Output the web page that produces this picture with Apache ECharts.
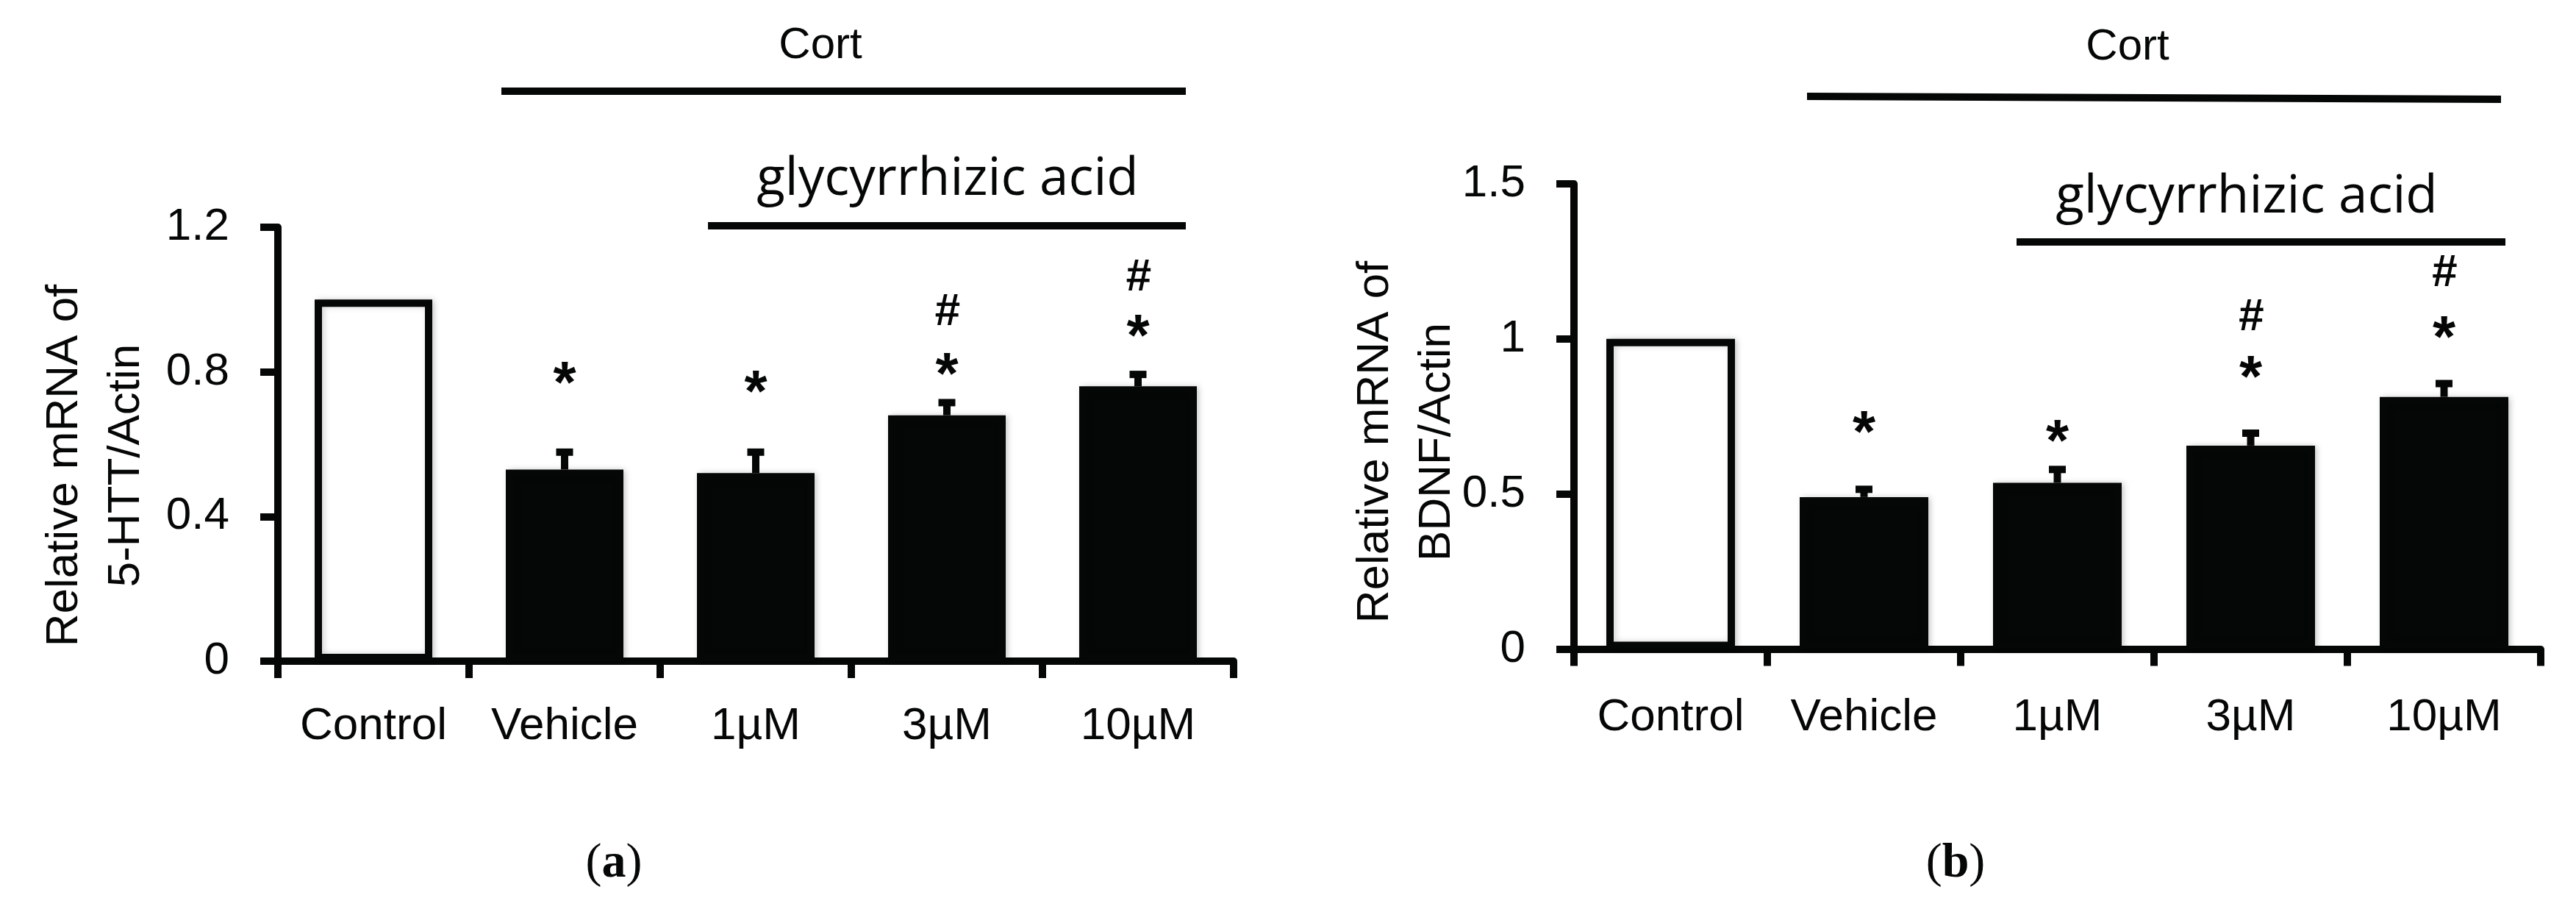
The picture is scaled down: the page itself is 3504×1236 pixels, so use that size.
<!DOCTYPE html>
<html><head><meta charset="utf-8">
<script src="https://cdn.jsdelivr.net/npm/echarts@6/dist/echarts.min.js"></script>
<style>html,body{margin:0;padding:0;background:#fff}#c{width:3504px;height:1236px}</style>
</head><body><div id="c"></div>
<script>
// ---- data ----
const categories = ['Control', 'Vehicle', '1µM', '3µM', '10µM'];

const httValues = [1.0, 0.53, 0.52, 0.68, 0.76];
const httErrors = [0, 0.048, 0.058, 0.035, 0.033];
const httStarLevel = [null, 0.802, 0.778, 0.826, 0.931];
const httHashLevel = [null, null, null, 0.964, 1.06];
const httTicks = [0, 0.4, 0.8, 1.2];

const bdnfValues = [1.0, 0.49, 0.536, 0.656, 0.813];
const bdnfErrors = [0, 0.025, 0.043, 0.04, 0.043];
const bdnfStarLevel = [null, 0.737, 0.709, 0.915, 1.042];
const bdnfHashLevel = [null, null, null, 1.069, 1.21];
const bdnfTicks = [0, 0.5, 1, 1.5];

const httAxisName = 'Relative mRNA of\n5-HTT/Actin';
const bdnfAxisName = 'Relative mRNA of\nBDNF/Actin';
const topLabel = 'Cort';
const subLabel = 'glycyrrhizic acid';

// ---- styling ----
const BLACK = '#050706';
const SANS = "'Liberation Sans', Arial, sans-serif";
const chart = echarts.init(document.getElementById('c'), null, {renderer: 'canvas'});

function xAxisCfg(gi, margin) {
  return {
    type: 'category', gridIndex: gi, data: categories,
    axisLine: {show: true, lineStyle: {color: BLACK, width: 10}},
    axisTick: {show: true, length: 23, lineStyle: {color: BLACK, width: 10}},
    axisLabel: {color: BLACK, fontSize: 62, fontFamily: SANS, margin: margin, interval: 0},
    splitLine: {show: false}
  };
}
function yAxisCfg(gi, ticks) {
  return {
    type: 'value', gridIndex: gi,
    min: ticks[0], max: ticks[ticks.length - 1], interval: ticks[1] - ticks[0],
    axisLine: {show: true, lineStyle: {color: BLACK, width: 10}},
    axisTick: {show: true, length: 24, lineStyle: {color: BLACK, width: 10}},
    axisLabel: {color: BLACK, fontSize: 62, fontFamily: SANS, margin: 66,
      formatter: v => String(+v.toFixed(2))},
    splitLine: {show: false}
  };
}
function barSeries(gi, values, width) {
  return {
    type: 'bar', xAxisIndex: gi, yAxisIndex: gi, barWidth: width, z: 2, silent: true,
    data: values.map((v, k) => ({value: v, itemStyle: {color: k === 0 ? '#ffffff' : BLACK}})),
    itemStyle: {borderColor: BLACK, borderWidth: 10,
      shadowBlur: 8, shadowColor: 'rgba(0,0,0,0.18)', shadowOffsetX: 3}
  };
}
function errSeries(gi, values, errors) {
  return {
    type: 'custom', xAxisIndex: gi, yAxisIndex: gi, z: 3, silent: true,
    data: values.map((v, k) => [k, v, v + errors[k], errors[k]]),
    renderItem: function (params, api) {
      if (!api.value(3)) return null;
      const base = api.coord([api.value(0), api.value(1)]);
      const top = api.coord([api.value(0), api.value(2)]);
      return {type: 'group', children: [
        {type: 'rect', shape: {x: base[0] - 5, y: top[1], width: 10, height: base[1] - top[1]}, style: {fill: BLACK}},
        {type: 'rect', shape: {x: base[0] - 11.5, y: top[1] - 5, width: 23, height: 10}, style: {fill: BLACK}}
      ]};
    }
  };
}
function markSeries(gi, levels, text, font) {
  return {
    type: 'scatter', xAxisIndex: gi, yAxisIndex: gi, z: 4, silent: true,
    symbolSize: 1, itemStyle: {color: '#ffffff', opacity: 1},
    data: levels.map((l, k) => [k, l]).filter(d => d[1] !== null),
    label: Object.assign({show: true, position: 'inside', formatter: text, color: BLACK,
      opacity: 1, textBorderWidth: 0, fontWeight: 'bold', fontFamily: SANS}, font)
  };
}
function hline(x1, y1, x2, y2) {
  return {type: 'line', shape: {x1, y1, x2, y2}, style: {stroke: BLACK, lineWidth: 10}, silent: true};
}
function txt(x, y, text, style, rot) {
  return {type: 'text', x, y, rotation: rot || 0, silent: true,
    style: Object.assign({text, fill: BLACK, align: 'center', verticalAlign: 'middle'}, style)};
}
const starFont = {fontSize: 80, offset: [0, 20]};
const hashFont = {fontSize: 62, fontStyle: 'italic', offset: [0, 0]};

const option = {
  backgroundColor: '#ffffff',
  animation: false,
  grid: [
    {left: 378, top: 309, width: 1300, height: 590},
    {left: 2141, top: 250, width: 1315, height: 632.5}
  ],
  xAxis: [xAxisCfg(0, 58), xAxisCfg(1, 62)],
  yAxis: [yAxisCfg(0, httTicks), yAxisCfg(1, bdnfTicks)],
  series: [
    barSeries(0, httValues, 160), errSeries(0, httValues, httErrors),
    markSeries(0, httStarLevel, '*', starFont), markSeries(0, httHashLevel, '#', hashFont),
    barSeries(1, bdnfValues, 175), errSeries(1, bdnfValues, bdnfErrors),
    markSeries(1, bdnfStarLevel, '*', starFont), markSeries(1, bdnfHashLevel, '#', hashFont)
  ],
  graphic: [
    hline(682, 124, 1613, 124), hline(963, 307, 1613, 307),
    hline(2458, 131, 3402, 135), hline(2743, 329, 3408, 329),
    txt(1116, 62, topLabel, {fontSize: 60, fontFamily: SANS}),
    txt(2894, 64, topLabel, {fontSize: 60, fontFamily: SANS}),
    txt(1289, 245, subLabel, {fontSize: 71, fontFamily: "'Open Sans', sans-serif"}),
    txt(3056, 269, subLabel, {fontSize: 71, fontFamily: "'Open Sans', sans-serif"}),
    txt(130, 633, httAxisName, {fontSize: 62, fontFamily: SANS, lineHeight: 84}, Math.PI / 2),
    txt(1913, 601, bdnfAxisName, {fontSize: 62, fontFamily: SANS, lineHeight: 84}, Math.PI / 2),
    txt(835, 1175, '({b|a})', {fontSize: 66, fontFamily: "'Liberation Serif', serif",
      rich: {b: {fontSize: 66, fontWeight: 'bold', fontFamily: "'Liberation Serif', serif", fill: BLACK}}}),
    txt(2660, 1175, '({b|b})', {fontSize: 66, fontFamily: "'Liberation Serif', serif",
      rich: {b: {fontSize: 66, fontWeight: 'bold', fontFamily: "'Liberation Serif', serif", fill: BLACK}}})
  ]
};
chart.setOption(option);
</script></body></html>
